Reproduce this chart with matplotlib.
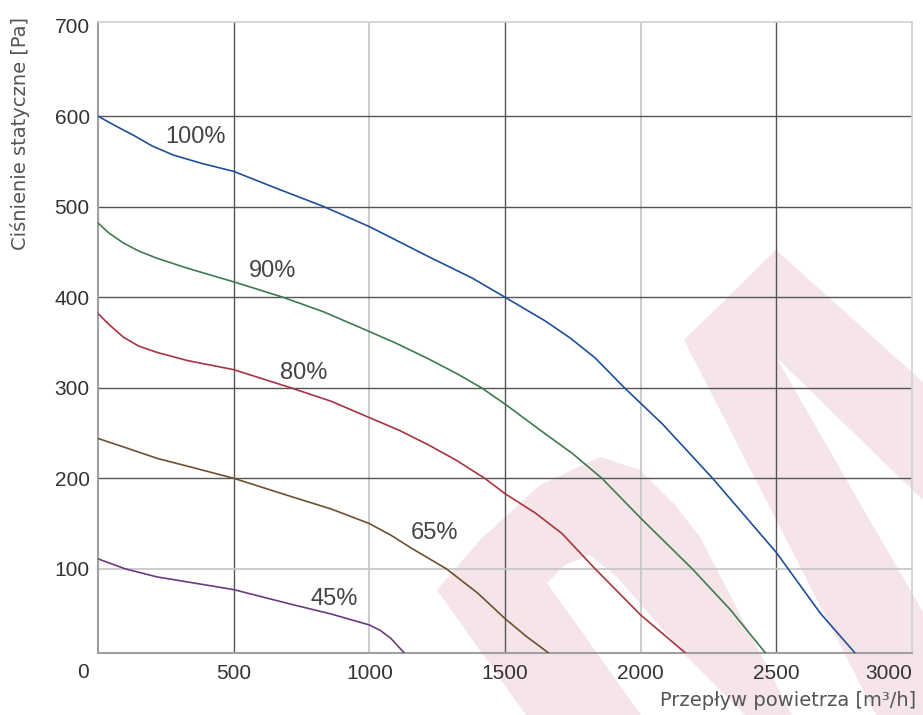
import matplotlib.pyplot as plt
from matplotlib.patches import Polygon

# fan curves: airflow [m3/h] vs static pressure [Pa]
x100 = [0, 60, 130, 200, 278, 380, 500, 660, 833, 1000, 1217, 1380, 1500, 1647,
        1740, 1832, 1940, 2080, 2265, 2500, 2662, 2790]
y100 = [600, 590, 579, 567, 557, 548, 539, 520, 500, 478, 445, 421, 400, 374,
        355, 333, 300, 260, 200, 118, 51, 7]

x90 = [0, 40, 93, 150, 218, 330, 500, 681, 830, 970, 1100, 1217, 1320, 1413,
       1500, 1635, 1750, 1857, 2000, 2190, 2330, 2460]
y90 = [482, 471, 460, 451, 443, 432, 417, 400, 384, 366, 349, 332, 316, 300,
       282, 252, 227, 200, 156, 100, 55, 7]

x80 = [0, 40, 93, 150, 218, 330, 500, 710, 860, 1000, 1110, 1217, 1320, 1425,
       1500, 1610, 1710, 1832, 2000, 2165]
y80 = [382, 370, 356, 346, 339, 330, 320, 300, 285, 267, 253, 237, 220, 200,
       183, 162, 139, 100, 49, 7]

x65 = [0, 100, 218, 360, 500, 710, 860, 1000, 1080, 1154, 1284, 1400, 1500, 1580, 1661]
y65 = [244, 234, 222, 211, 200, 180, 166, 150, 137, 123, 100, 73, 45, 25, 7]

x45 = [0, 100, 218, 360, 500, 710, 860, 1000, 1040, 1080, 1129]
y45 = [111, 100, 91, 84, 77, 61, 50, 38, 32, 23, 7]

curve_labels = ["100%", "90%", "80%", "65%", "45%"]
label_pos = [(359, 577), (644, 429), (759, 316), (1240, 139), (870, 67)]
colors = ["#1f4f99", "#3f7a50", "#a8343f", "#6e5030", "#6b3a80"]

xticks = [500, 1000, 1500, 2000, 2500, 3000]
yticks = [100, 200, 300, 400, 500, 600, 700]
dark_x = [500, 1500, 2500]
light_x = [1000, 2000]
dark_y = [200, 300, 400, 500, 600]
light_y = [100]

W, H = 923, 715
fig = plt.figure(figsize=(W / 100, H / 100), dpi=100)
plt.rcParams["font.family"] = ["Liberation Sans", "DejaVu Sans"]

# watermark in the background (figure pixel outlines)
pink = "#f5e4e8"
shapes = [
    [(526, 715), (437, 590), (480, 540), (540, 485), (600, 457), (640, 470),
     (675, 505), (700, 537), (760, 653), (792, 715), (745, 715), (683, 653),
     (617, 577), (590, 555), (565, 565), (547, 583), (641, 715)],
    [(684, 340), (776, 250), (776, 357), (858, 500), (923, 612), (923, 715),
     (876, 715), (766, 500)],
    [(776, 250), (923, 382), (923, 500), (905, 483), (776, 357)],
]
for s in shapes:
    pts = [(px / W, 1 - py / H) for px, py in s]
    fig.patches.append(Polygon(pts, closed=True, transform=fig.transFigure,
                               facecolor=pink, edgecolor="none", zorder=-5))

ax = fig.add_axes([98 / W, 1 - 653 / H, (912 - 98) / W, (653 - 22) / H])
ax.set_facecolor("none")
ax.set_xlim(0, 3000)
ax.set_ylim(7, 704)

for v in dark_x:
    ax.axvline(v, color="#555555", lw=1.0, zorder=1)
for v in light_x:
    ax.axvline(v, color="#c4c4c4", lw=1.2, zorder=1)
for v in dark_y:
    ax.axhline(v, color="#555555", lw=1.0, zorder=1)
for v in light_y:
    ax.axhline(v, color="#c4c4c4", lw=1.2, zorder=1)

for xs, ys, c in zip([x100, x90, x80, x65, x45], [y100, y90, y80, y65, y45], colors):
    ax.plot(xs, ys, color=c, lw=1.2, zorder=3, solid_joinstyle="round")

for lab, (lx, ly) in zip(curve_labels, label_pos):
    ax.text(lx, ly, lab, ha="center", va="center", fontsize=17, color="#444444", zorder=4)

for side in ["left", "bottom"]:
    ax.spines[side].set_color("#a0a0a0")
    ax.spines[side].set_linewidth(1.5)
for side in ["top", "right"]:
    ax.spines[side].set_color("#cfcfcf")
    ax.spines[side].set_linewidth(1.2)

ax.set_xticks(xticks)
ax.set_yticks(yticks)
ax.set_xticklabels([str(t) for t in xticks])
ax.set_yticklabels([str(t) for t in yticks])
ax.tick_params(length=0, labelsize=15, labelcolor="#333333")
ax.tick_params(axis="x", pad=8)
ax.tick_params(axis="y", pad=6)
ax.get_xticklabels()[-1].set_horizontalalignment("right")

fig.text(83 / W, 1 - 672 / H, "0", ha="center", va="center", fontsize=15, color="#333333")
fig.text(20 / W, 1 - 133 / H, "Ciśnienie statyczne [Pa]", rotation=90,
         ha="center", va="center", fontsize=14, color="#555555",
         family=["DejaVu Sans"])
fig.text(916 / W, 1 - 700 / H, "Przepływ powietrza [m³/h]",
         ha="right", va="center", fontsize=14, color="#555555",
         family=["DejaVu Sans"])

fig.savefig("out.png", dpi=100)
